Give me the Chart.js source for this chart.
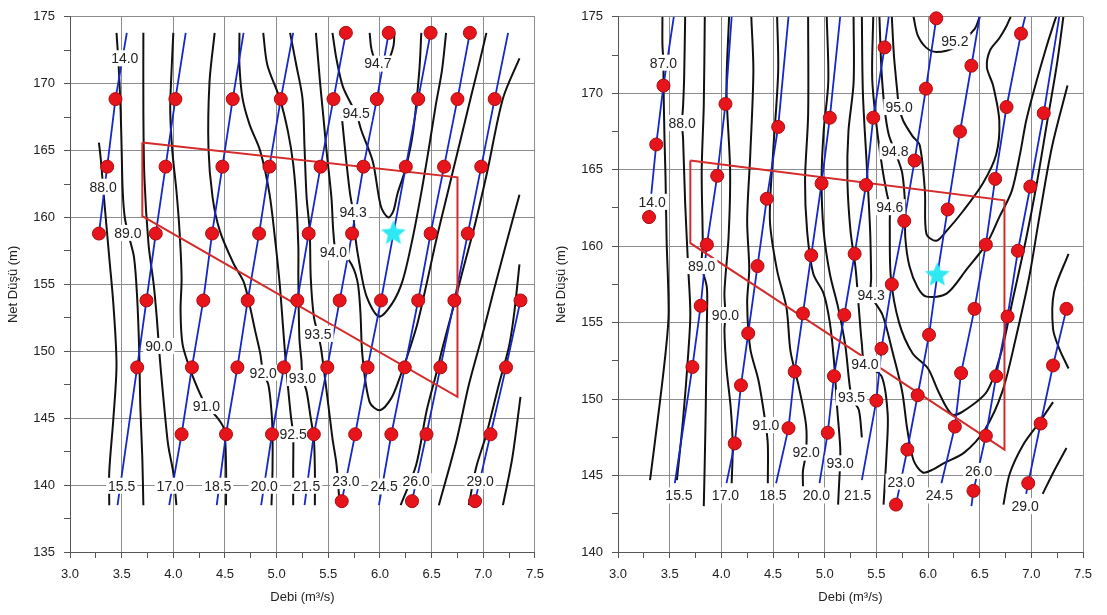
<!DOCTYPE html>
<html>
<head>
<meta charset="utf-8">
<title>Hill chart</title>
<script src="https://cdn.jsdelivr.net/npm/chart.js@4.4.0/dist/chart.umd.min.js"></script>
<style>
html, body { margin: 0; padding: 0; background: #fff; }
#wrap { position: relative; width: 1107px; height: 615px; overflow: hidden; }
#chartLeft { position: absolute; left: 0; top: 0; }
#chartRight { position: absolute; left: 553px; top: 0; }
</style>
</head>
<body>
<div id="wrap">
    <canvas id="chartLeft" width="553" height="615"></canvas>
    <canvas id="chartRight" width="554" height="615"></canvas>
</div>
<script>
// ---- left chart data ----
// measured points (red dots), one list per guide vane line
var leftVanePoints = [
    [[3.28, 158.8], [3.36, 163.8], [3.44, 168.85]],
    [[3.65, 148.8], [3.74, 153.8], [3.83, 158.8], [3.925, 163.8], [4.02, 168.85]],
    [[4.08, 143.8], [4.18, 148.8], [4.29, 153.8], [4.375, 158.8], [4.475, 163.8], [4.575, 168.85]],
    [[4.51, 143.8], [4.62, 148.8], [4.72, 153.8], [4.83, 158.8], [4.93, 163.8], [5.04, 168.85]],
    [[4.955, 143.8], [5.07, 148.8], [5.20, 153.8], [5.31, 158.8], [5.425, 163.8], [5.55, 168.85], [5.67, 173.8]],
    [[5.36, 143.8], [5.49, 148.8], [5.61, 153.8], [5.73, 158.8], [5.84, 163.8], [5.97, 168.85], [6.085, 173.8]],
    [[5.63, 138.8], [5.76, 143.8], [5.88, 148.8], [6.01, 153.8], [6.25, 163.8], [6.37, 168.85], [6.49, 173.8]],
    [[6.11, 143.8], [6.24, 148.8], [6.37, 153.8], [6.49, 158.8], [6.62, 163.8], [6.75, 168.85], [6.87, 173.8]],
    [[6.31, 138.8], [6.45, 143.8], [6.585, 148.8], [6.72, 153.8], [6.85, 158.8], [6.98, 163.8], [7.11, 168.85]],
    [[6.92, 138.8], [7.07, 143.8], [7.22, 148.8], [7.36, 153.8]]
];
// extra vertices of the blue lines (ends, star)
var leftVaneEnds = [
    [[3.55, 173.8]],
    [[3.46, 138.5], [4.12, 173.8]],
    [[3.96, 138.5], [4.68, 173.8]],
    [[4.42, 138.5], [5.16, 173.8]],
    [[4.85, 138.5]],
    [[5.27, 138.5]],
    [[6.13, 158.8]],
    [[5.99, 138.5]],
    [[7.24, 173.8]],
    []
];
var leftContours = [
    [[3.28, 165.6], [3.30, 164.2], [3.32, 162.3], [3.34, 160.5], [3.38, 157], [3.42, 153.5], [3.45, 149], [3.42, 145], [3.38, 141], [3.38, 138.5]],
    [[3.45, 173.8], [3.47, 171.5], [3.49, 168], [3.50, 165], [3.51, 162], [3.53, 160], [3.57, 158.6], [3.62, 157], [3.65, 154], [3.67, 150], [3.68, 146], [3.70, 142], [3.71, 138.5]],
    [[3.71, 173.8], [3.71, 168], [3.72, 163], [3.76, 158], [3.81, 155], [3.84, 152.5], [3.86, 150.4], [3.88, 148.5], [3.91, 146], [3.95, 143], [4.0, 140.9], [4.03, 138.5]],
    [[4.0, 173.8], [3.98, 170.5], [3.97, 168], [3.99, 165], [4.03, 162], [4.06, 159], [4.08, 155.5], [4.07, 153], [4.09, 150.5], [4.17, 148.5], [4.26, 146.8], [4.32, 145.9], [4.42, 145.1], [4.49, 144.2], [4.51, 141.5], [4.51, 138.5]],
    [[4.40, 173.8], [4.35, 170.1], [4.34, 165.2], [4.38, 161.5], [4.45, 159.0], [4.58, 156.6], [4.68, 155.2], [4.74, 153.4], [4.79, 151.6], [4.84, 149.9], [4.87, 148.4], [4.92, 147.5], [4.95, 145.5], [4.96, 143.8], [4.96, 141.1], [4.95, 138.5]],
    [[4.64, 173.8], [4.64, 171.4], [4.67, 168.9], [4.74, 166.9], [4.84, 165.0], [4.93, 161.8], [4.99, 158], [5.03, 155], [5.06, 152], [5.09, 149], [5.12, 146.5], [5.14, 145.0], [5.16, 143.8], [5.16, 141.1], [5.16, 138.5]],
    [[4.87, 173.8], [4.91, 171.4], [5.03, 168.9], [5.11, 166.4], [5.16, 164.0], [5.19, 161.3], [5.21, 157.8], [5.21, 155.5], [5.22, 151], [5.24, 149.3], [5.25, 148.0], [5.29, 147], [5.33, 145], [5.36, 143.5], [5.37, 141.1], [5.37, 138.5]],
    [[5.13, 173.8], [5.19, 171.4], [5.25, 168.9], [5.27, 165.2], [5.29, 161.5], [5.32, 159], [5.33, 155.5], [5.36, 152.6], [5.40, 151.3], [5.43, 150.2], [5.50, 146], [5.54, 143.5], [5.58, 141.5], [5.61, 138.5]],
    [[5.38, 173.8], [5.42, 170.1], [5.45, 167.7], [5.48, 165.2], [5.53, 161.5], [5.55, 158.8], [5.58, 157.4], [5.70, 156.8], [5.78, 155.3], [5.81, 153], [5.83, 149.7], [5.90, 146.2], [6.0, 145.6], [6.11, 146.5], [6.19, 148.0], [6.28, 150.0], [6.36, 152], [6.45, 155], [6.55, 158.5], [6.66, 162], [6.77, 165.5], [6.88, 169], [6.96, 171.5], [7.03, 173.8]],
    [[5.63, 167.6], [5.67, 164.5], [5.71, 161.8], [5.74, 160.4], [5.76, 158.6], [5.80, 156.6], [5.87, 154.1], [5.99, 152.6], [6.12, 153.6], [6.22, 155.3], [6.32, 158.6], [6.41, 162.3], [6.48, 165.5], [6.54, 168.4], [6.60, 171], [6.64, 173.8]],
    [[5.54, 173.8], [5.58, 171.8], [5.64, 169.8], [5.72, 168.5], [5.77, 167.8], [5.82, 166.5], [5.93, 164.2], [6.01, 160.8], [6.08, 160.0], [6.13, 160.5], [6.17, 161.8], [6.25, 163.7], [6.32, 166.4], [6.38, 170.9], [6.40, 173.8]],
    [[5.90, 173.8], [5.92, 172.5], [5.98, 171.4], [6.08, 171.8], [6.13, 172.8], [6.14, 173.8]],
    [[6.20, 138.5], [6.35, 141.5], [6.45, 145.5], [6.54, 148.2], [6.61, 150.4], [6.70, 153], [6.80, 156], [6.92, 159.5], [7.04, 163.5], [7.19, 168.9], [7.35, 171.9]],
    [[6.57, 138.5], [6.74, 143.3], [6.86, 147.5], [6.99, 151.2], [7.10, 154.5], [7.22, 158], [7.35, 161.7]],
    [[6.86, 138.5], [6.93, 141.3], [7.03, 143.8], [7.15, 147.5], [7.25, 150.4], [7.30, 152.9], [7.35, 156.5]],
    [[7.19, 138.5], [7.28, 142], [7.36, 146.6]]
];
var leftLabels = [
    [3.53, 171.9, '14.0'], [3.32, 162.3, '88.0'], [3.56, 158.85, '89.0'], [3.86, 150.4, '90.0'],
    [4.32, 145.9, '91.0'], [4.87, 148.4, '92.0'], [5.16, 143.8, '92.5'], [5.25, 148.0, '93.0'],
    [5.40, 151.3, '93.5'], [5.55, 157.4, '94.0'], [5.74, 160.4, '94.3'], [5.77, 167.8, '94.5'],
    [5.98, 171.5, '94.7'],
    [3.50, 139.95, '15.5'], [3.97, 139.95, '17.0'], [4.43, 139.95, '18.5'], [4.88, 139.95, '20.0'],
    [5.29, 139.95, '21.5'], [5.67, 140.3, '23.0'], [6.04, 139.9, '24.5'], [6.35, 140.3, '26.0'],
    [6.97, 140.3, '29.0']
];
var leftPolygon = [[3.7, 165.6], [6.75, 163.0], [6.75, 146.6], [3.7, 160.1], [3.7, 165.6]];
var leftStar = [6.13, 158.8];

// ---- right chart data ----
var rightVanePoints = [
    [[3.30, 161.9], [3.37, 166.65], [3.44, 170.5]],
    [[3.72, 152.1], [3.80, 156.1], [3.86, 160.1], [3.96, 164.6], [4.04, 169.3]],
    [[4.13, 147.1], [4.19, 150.9], [4.26, 154.3], [4.35, 158.7], [4.44, 163.1], [4.55, 167.8]],
    [[4.65, 148.1], [4.71, 151.8], [4.79, 155.6], [4.87, 159.4], [4.97, 164.1], [5.05, 168.4]],
    [[5.03, 147.8], [5.09, 151.5], [5.19, 155.5], [5.29, 159.5], [5.40, 164.0], [5.47, 168.4], [5.58, 173.0]],
    [[5.50, 149.9], [5.55, 153.3], [5.65, 157.5], [5.77, 161.65], [5.87, 165.6], [5.98, 170.3], [6.08, 174.9]],
    [[5.69, 143.1], [5.80, 146.7], [5.90, 150.25], [6.01, 154.2], [6.19, 162.4], [6.31, 167.5], [6.42, 171.8]],
    [[6.26, 148.2], [6.32, 151.7], [6.45, 155.9], [6.56, 160.1], [6.65, 164.4], [6.76, 169.1], [6.90, 173.9]],
    [[6.44, 144.0], [6.56, 147.6], [6.66, 151.5], [6.77, 155.4], [6.87, 159.7], [6.99, 163.9], [7.12, 168.7]],
    [[6.97, 144.5], [7.09, 148.4], [7.21, 152.2], [7.34, 155.9]]
];
var rightVaneEnds = [
    [[3.54, 175]],
    [[3.55, 144.5], [4.10, 175]],
    [[4.05, 144.5], [4.65, 175]],
    [[4.53, 144.5], [5.15, 175]],
    [[4.95, 144.5], [5.62, 175]],
    [[5.36, 144.7]],
    [[6.09, 158.1], [6.50, 175]],
    [[6.13, 144.5], [6.94, 175]],
    [[6.42, 143.0], [7.27, 175]],
    [[6.95, 143.8]]
];
var rightContours = [
    [[3.43, 175], [3.43, 173.2], [3.44, 172], [3.44, 170.8], [3.45, 167], [3.46, 164.5], [3.47, 160.5], [3.49, 155.6], [3.46, 153], [3.40, 149.5], [3.31, 144.7]],
    [[3.65, 175], [3.64, 171], [3.63, 169.2], [3.62, 168.05], [3.63, 167], [3.65, 162.8], [3.68, 158.5], [3.70, 155.6], [3.68, 153], [3.63, 148.7], [3.57, 144.7]],
    [[3.84, 175], [3.83, 169.2], [3.81, 164.9], [3.82, 160.2], [3.81, 158.7], [3.86, 157.3], [3.86, 155], [3.85, 149.8], [3.84, 146], [3.83, 143.0]],
    [[4.075, 175], [4.05, 170.3], [4.085, 164.9], [4.07, 160.6], [4.03, 157], [4.04, 155.5], [4.03, 154.5], [4.05, 152], [4.09, 149.5], [4.11, 147], [4.10, 144.5]],
    [[4.29, 175], [4.31, 171.4], [4.28, 166], [4.25, 161.7], [4.27, 158.5], [4.25, 156.3], [4.28, 153.3], [4.36, 151.2], [4.43, 148.3], [4.45, 147], [4.45, 144.5]],
    [[4.54, 175], [4.55, 171.4], [4.50, 166], [4.47, 161.7], [4.54, 158.4], [4.63, 156], [4.67, 153.1], [4.75, 150.8], [4.82, 148.3], [4.82, 146.5], [4.79, 145.3], [4.79, 144.3]],
    [[4.84, 175], [4.84, 168.6], [4.81, 164.3], [4.83, 161], [4.89, 158.2], [4.99, 156.9], [5.05, 155], [5.09, 152.5], [5.12, 149.5], [5.15, 146.9], [5.15, 145.8], [5.14, 144.5], [5.13, 143.1]],
    [[5.02, 175], [5.035, 170.75], [4.99, 167.5], [4.97, 164.3], [4.99, 161], [5.05, 158.2], [5.13, 156], [5.20, 153.5], [5.26, 150.1], [5.33, 149.3], [5.36, 147.5]],
    [[5.28, 175], [5.28, 170.7], [5.23, 167.5], [5.22, 164.3], [5.25, 161], [5.30, 158.5], [5.33, 156], [5.36, 153.6], [5.39, 152.3], [5.55, 151.5], [5.61, 149], [5.60, 146.6], [5.57, 143.1]],
    [[5.36, 175], [5.37, 170], [5.41, 165], [5.44, 161], [5.45, 158], [5.45, 156.8], [5.56, 155.5], [5.66, 153], [5.75, 150.5], [5.80, 148], [5.86, 146], [5.95, 145.2], [6.05, 145.4], [6.15, 145.8], [6.35, 146.5], [6.55, 148], [6.72, 150.5], [6.85, 154], [6.98, 158], [7.08, 162], [7.2, 166.5], [7.35, 170.5]],
    [[5.47, 175], [5.46, 171], [5.50, 168], [5.56, 165], [5.60, 163.5], [5.63, 162.55], [5.63, 161.5], [5.64, 158], [5.72, 155], [5.85, 153], [6.0, 152], [6.10, 150.5], [6.23, 149.0], [6.34, 149.2], [6.57, 150.5], [6.71, 153.1], [6.82, 156.5], [6.95, 160.5], [7.05, 164], [7.15, 168], [7.25, 172], [7.31, 175]],
    [[5.53, 175], [5.55, 171.5], [5.58, 169], [5.62, 167.3], [5.68, 166.2], [5.75, 164.8], [5.78, 162.5], [5.78, 160.6], [5.82, 158.7], [5.90, 157.3], [5.985, 156.7], [6.18, 156.9], [6.37, 158.45], [6.57, 160.2], [6.69, 161.9], [6.81, 163.6], [6.89, 166.0], [6.95, 168.2], [7.03, 170.3], [7.14, 172.9], [7.21, 174.4], [7.24, 175]],
    [[5.65, 175], [5.67, 172.5], [5.70, 170.3], [5.72, 169.1], [5.76, 168.2], [5.85, 167.2], [5.92, 166.6], [5.97, 163.6], [5.985, 160.8], [6.08, 160.35], [6.18, 161.0], [6.34, 162.3], [6.53, 164.1], [6.66, 166.0], [6.69, 168.2], [6.63, 170.5], [6.57, 171.7], [6.60, 172.8], [6.69, 173.6], [6.76, 174.4], [6.80, 175]],
    [[5.86, 175], [5.90, 173.8], [5.98, 173.0], [6.08, 172.7], [6.26, 173.0], [6.45, 174.2], [6.50, 175]],
    [[6.73, 143.1], [6.79, 145.1], [6.92, 147.0], [7.08, 148.5], [7.21, 149.8]],
    [[7.36, 159.5], [7.22, 157], [7.21, 154.6], [7.27, 153.3], [7.36, 152.0]],
    [[7.11, 143.8], [7.22, 145.3], [7.34, 146.8]]
];
var rightLabels = [
    [3.44, 172.0, '87.0'], [3.62, 168.05, '88.0'], [3.33, 162.9, '14.0'], [3.81, 158.7, '89.0'],
    [4.04, 155.5, '90.0'], [4.43, 148.3, '91.0'], [4.82, 146.5, '92.0'], [5.15, 145.8, '93.0'],
    [5.26, 150.1, '93.5'], [5.39, 152.3, '94.0'], [5.45, 156.8, '94.3'], [5.63, 162.55, '94.6'],
    [5.68, 166.2, '94.8'], [5.72, 169.1, '95.0'], [6.26, 173.4, '95.2'],
    [3.59, 143.7, '15.5'], [4.04, 143.7, '17.0'], [4.50, 143.7, '18.5'], [4.92, 143.7, '20.0'],
    [5.32, 143.7, '21.5'], [5.74, 144.6, '23.0'], [6.11, 143.7, '24.5'], [6.49, 145.3, '26.0'],
    [6.94, 143.0, '29.0']
];
var rightPolygon = [[3.7, 165.6], [6.74, 163.0], [6.74, 146.7], [3.7, 160.2], [3.7, 165.6]];
var rightStar = [6.09, 158.1];

var FONT = '"Liberation Sans", Arial, sans-serif';

function toXY(list) {
    return list.map(function (p) { return { x: p[0], y: p[1] }; });
}

function isMajor(v, step) {
    var r = v / step;
    return Math.abs(r - Math.round(r)) < 1e-6;
}

function makeStar(r, color) {
    var c = document.createElement('canvas');
    c.width = c.height = 2 * r + 2;
    var g = c.getContext('2d');
    g.beginPath();
    for (var i = 0; i < 10; i++) {
        var rad = i % 2 === 0 ? r : r * 0.45;
        var a = -Math.PI / 2 + i * Math.PI / 5;
        g.lineTo(r + 1 + rad * Math.cos(a), r + 1 + rad * Math.sin(a));
    }
    g.closePath();
    g.fillStyle = color;
    g.fill();
    return c;
}

// contour / vane labels with a white box, drawn after the lines and before the dots
var contourLabels = {
    id: 'contourLabels',
    afterDatasetDraw: function (chart, args, opts) {
        if (args.index !== 2) return;
        var ctx = chart.ctx, xs = chart.scales.x, ys = chart.scales.y;
        ctx.save();
        ctx.font = '14px ' + FONT;
        ctx.textAlign = 'center';
        ctx.textBaseline = 'middle';
        opts.items.forEach(function (l) {
            var px = xs.getPixelForValue(l[0]);
            var py = ys.getPixelForValue(l[1]);
            var w = ctx.measureText(l[2]).width;
            ctx.fillStyle = '#fff';
            ctx.fillRect(px - w / 2 - 2, py - 8, w + 4, 16);
            ctx.fillStyle = '#222';
            ctx.fillText(l[2], px, py + 1);
        });
        ctx.restore();
    }
};

function buildDatasets(vanePts, vaneEnds, contours, polygon, star) {
    var sets = [];
    sets.push({ data: toXY([star]), pointStyle: makeStar(13, '#2ee8f2'), pointRadius: 13, showLine: false, clip: 20 });
    var dots = [];
    vanePts.forEach(function (v) { dots = dots.concat(v); });
    sets.push({ data: toXY(dots), pointRadius: 6.5, backgroundColor: '#e8141b', borderColor: '#a80d10', borderWidth: 1, showLine: false, clip: 10 });
    sets.push({ data: toXY(polygon), showLine: true, borderColor: '#d42b2b', borderWidth: 2, pointRadius: 0, tension: 0 });
    vanePts.forEach(function (v, i) {
        var line = v.concat(vaneEnds[i]).sort(function (a, b) { return a[1] - b[1]; });
        sets.push({ data: toXY(line), showLine: true, borderColor: '#1428c8', borderWidth: 1.8, pointRadius: 0, tension: 0 });
    });
    contours.forEach(function (c) {
        sets.push({ data: toXY(c), showLine: true, borderColor: '#111', borderWidth: 2, pointRadius: 0, tension: 0.3 });
    });
    return sets;
}

function scaleOptions(yMin, yWidth, yTitlePad) {
    return {
        x: {
            type: 'linear', min: 3, max: 7.5,
            afterFit: function (s) { s.height = 56; },
            ticks: {
                stepSize: 0.25, autoSkip: false, maxRotation: 0, padding: 9, color: '#222',
                font: { size: 13, family: FONT },
                callback: function (v) { return isMajor(v, 0.5) ? Number(v).toFixed(1) : ''; }
            },
            grid: {
                color: function (c) { return c.tick && isMajor(c.tick.value, 0.5) ? '#8c8c8c' : 'rgba(0,0,0,0)'; },
                tickColor: '#555', tickLength: 6, lineWidth: 1
            },
            border: { color: '#555' },
            title: { display: true, text: 'Debi (m³/s)', color: '#222', font: { size: 13, family: FONT }, padding: { top: 0, bottom: 3 } }
        },
        y: {
            type: 'linear', min: yMin, max: 175,
            afterFit: function (s) { s.width = yWidth; },
            ticks: {
                stepSize: 2.5, autoSkip: false, padding: 9, color: '#222',
                font: { size: 13, family: FONT },
                callback: function (v) { return isMajor(v, 5) ? String(v) : ''; }
            },
            grid: {
                color: function (c) { return c.tick && isMajor(c.tick.value, 5) ? '#8c8c8c' : 'rgba(0,0,0,0)'; },
                tickColor: '#555', tickLength: 6, lineWidth: 1
            },
            border: { color: '#555' },
            title: { display: true, text: 'Net Düşü (m)', color: '#222', font: { size: 13, family: FONT }, padding: { top: yTitlePad, bottom: 0 } }
        }
    };
}

function drawChart(id, datasets, labels, yMin, yWidth, yTitlePad, padRight) {
    var ctx = document.getElementById(id).getContext('2d');
    return new Chart(ctx, {
        type: 'scatter',
        data: { datasets: datasets },
        options: {
            responsive: false,
            animation: false,
            events: [],
            layout: { padding: { left: 0, right: padRight, top: 11, bottom: 7 } },
            scales: scaleOptions(yMin, yWidth, yTitlePad),
            plugins: {
                legend: { display: false },
                tooltip: { enabled: false },
                contourLabels: { items: labels }
            }
        },
        plugins: [contourLabels]
    });
}

drawChart('chartLeft', buildDatasets(leftVanePoints, leftVaneEnds, leftContours, leftPolygon, leftStar), leftLabels, 135, 70, 6, 17);
drawChart('chartRight', buildDatasets(rightVanePoints, rightVaneEnds, rightContours, rightPolygon, rightStar), rightLabels, 140, 65, 1, 24);
</script>
</body>
</html>
